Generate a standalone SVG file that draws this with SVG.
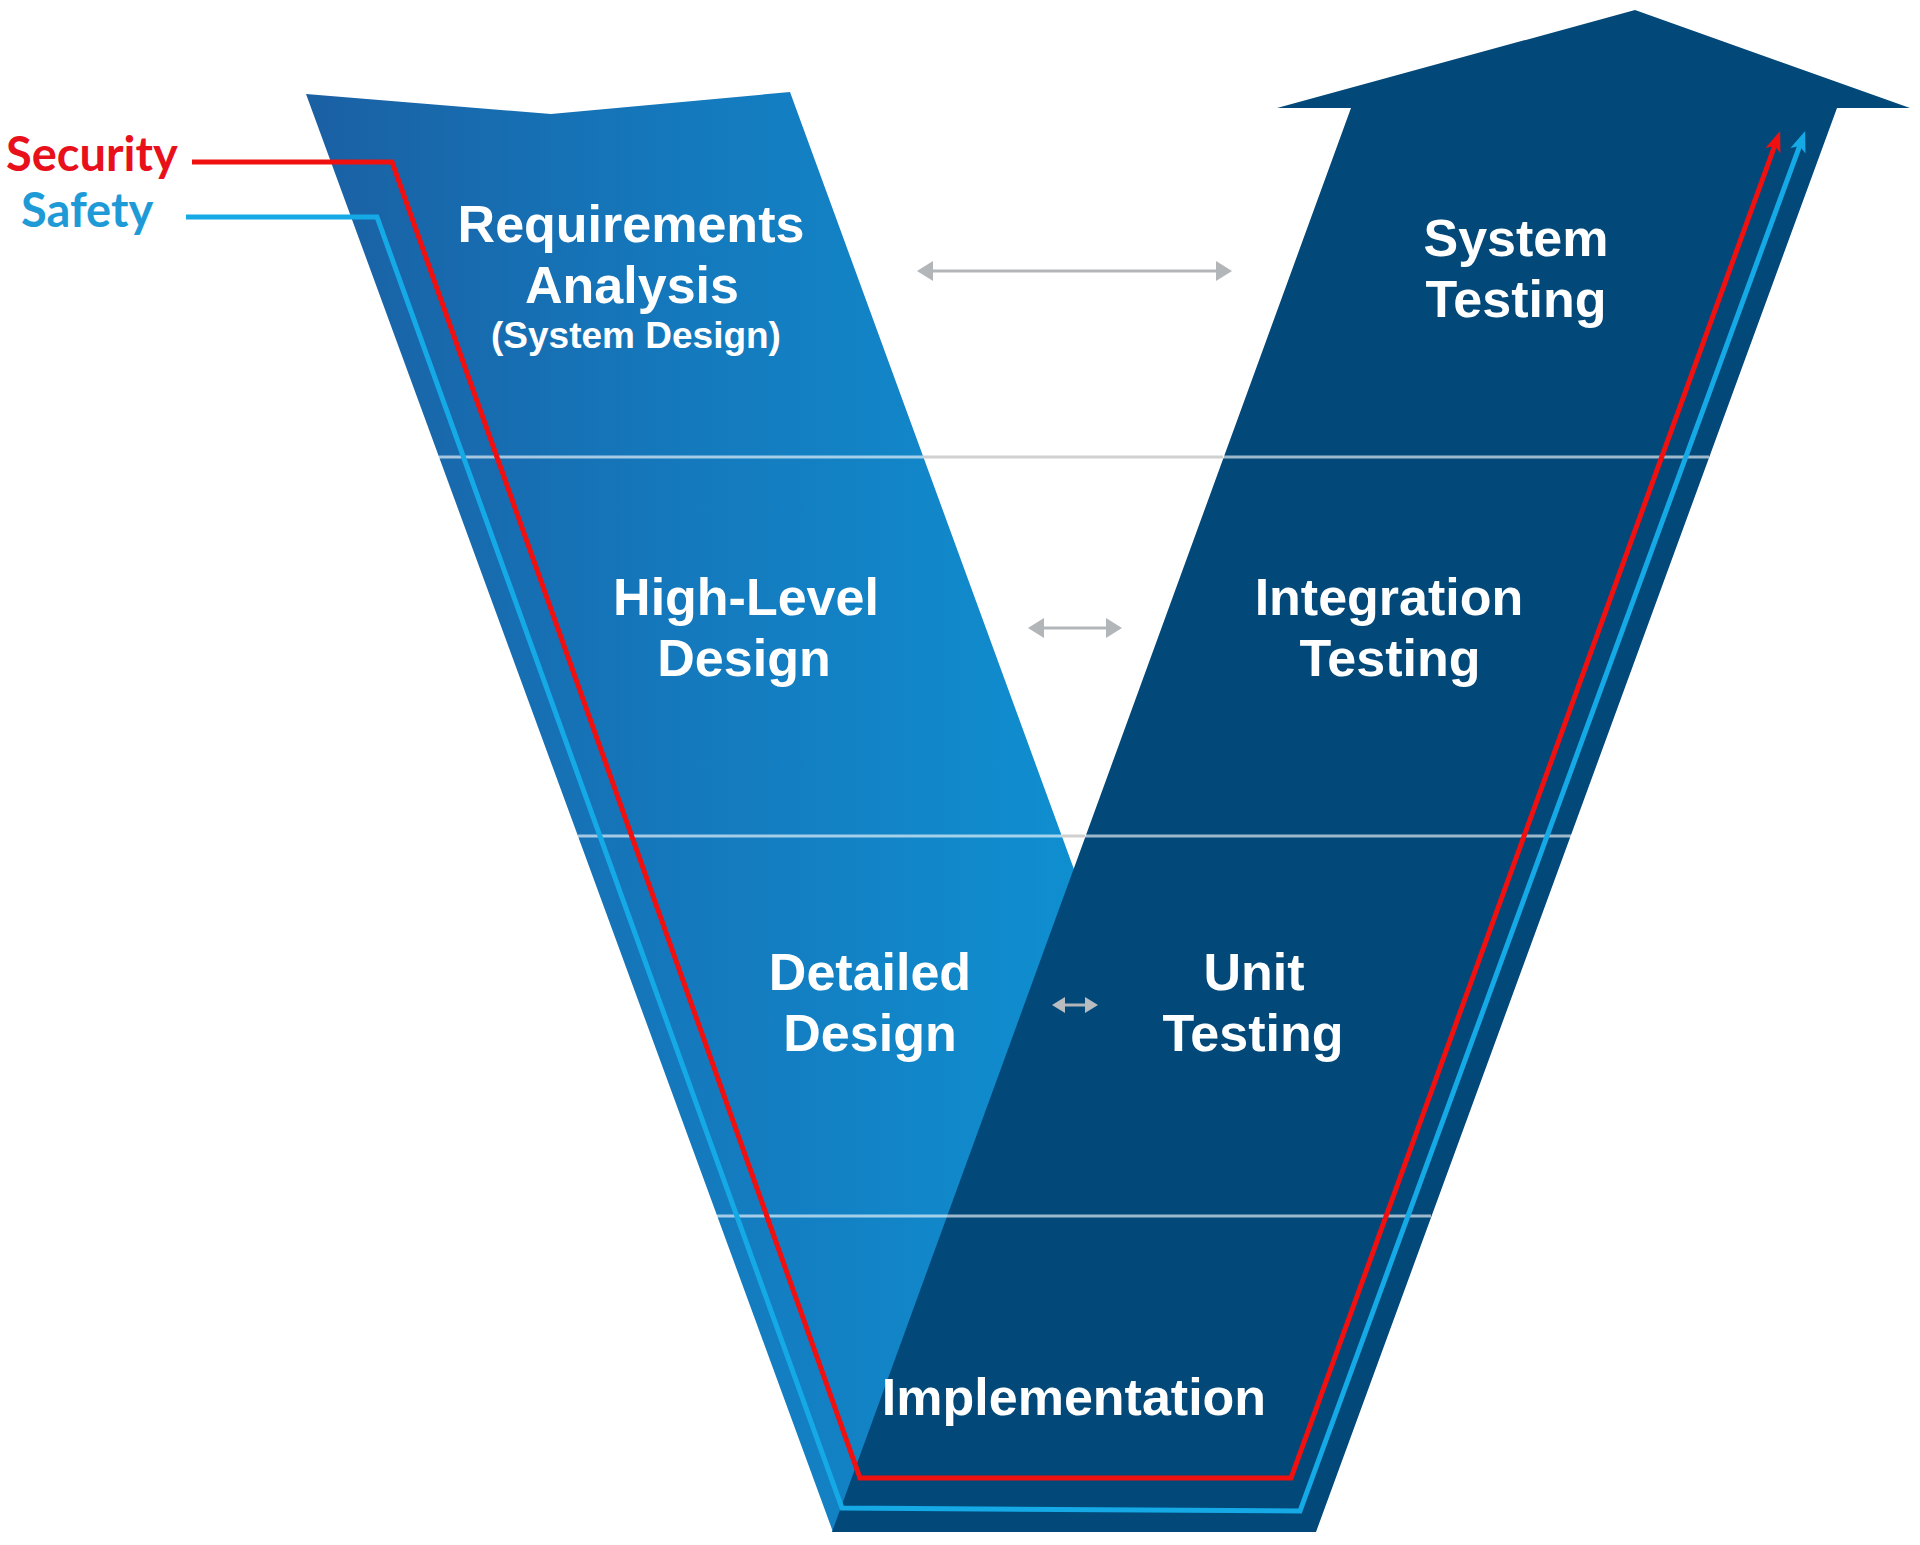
<svg xmlns="http://www.w3.org/2000/svg" width="1920" height="1545" viewBox="0 0 1920 1545">
  <defs>
    <linearGradient id="leftGrad" gradientUnits="userSpaceOnUse" x1="306" y1="0" x2="1080" y2="0">
      <stop offset="0" stop-color="#1a60a3"/>
      <stop offset="0.45" stop-color="#1577bb"/>
      <stop offset="1" stop-color="#0f8fd0"/>
    </linearGradient>
    <marker id="redHead" markerUnits="userSpaceOnUse" markerWidth="22" markerHeight="18" refX="6" refY="8" orient="auto" overflow="visible">
      <path d="M0,0 L21,8 L0,16 L5,8 z" fill="#f01010"/>
    </marker>
    <marker id="cyanHead" markerUnits="userSpaceOnUse" markerWidth="22" markerHeight="18" refX="6" refY="8" orient="auto" overflow="visible">
      <path d="M0,0 L21,8 L0,16 L5,8 z" fill="#15a9e6"/>
    </marker>
    <marker id="grayHead" markerUnits="userSpaceOnUse" markerWidth="18" markerHeight="20" refX="3" refY="10" orient="auto-start-reverse" overflow="visible">
      <path d="M0,0 L16,10 L0,20 z" fill="#b3b6b9"/>
    </marker>
    <marker id="grayHeadS" markerUnits="userSpaceOnUse" markerWidth="14" markerHeight="16" refX="3" refY="8" orient="auto-start-reverse" overflow="visible">
      <path d="M0,0 L13,8 L0,16 z" fill="#b9bdc1"/>
    </marker>
  </defs>
  <style>
    .stage { font-family: "Liberation Sans", Arial, sans-serif; font-weight: bold; fill: #ffffff; text-anchor: middle; font-size: 52px; }
    .sub { font-size: 37px; }
    .legend { font-family: Lato, "Liberation Sans", sans-serif; font-weight: bold; font-size: 47px; }
    .divider { stroke: #ffffff; stroke-opacity: 0.62; stroke-width: 3; }
    .gap { stroke: #d0d0d0; stroke-width: 3; }
    .track { fill: none; stroke-width: 5; stroke-linejoin: miter; }
    .both { stroke: #b3b6b9; stroke-width: 3; fill: none; }
  </style>

  <rect x="0" y="0" width="1920" height="1545" fill="#ffffff"/>

  <g id="left-arm">
    <polygon points="306,94 551,114 790,92 1079,883 900,1525 833,1532" fill="url(#leftGrad)"/>
  </g>
  <g id="right-arm">
    <polygon points="1351,108 1277,108 1635,10 1910,108 1837,108 1316,1532 832,1532" fill="#02497a"/>
  </g>

  <g id="dividers">
    <line class="divider" x1="439" y1="457" x2="923" y2="457"/>
    <line class="gap" x1="923" y1="457" x2="1223" y2="457"/>
    <line class="divider" x1="1223" y1="457" x2="1709" y2="457"/>
    <line class="divider" x1="578" y1="836" x2="1062" y2="836"/>
    <line class="gap" x1="1062" y1="836" x2="1085" y2="836"/>
    <line class="divider" x1="1085" y1="836" x2="1571" y2="836"/>
    <line class="divider" x1="717" y1="1216" x2="1431" y2="1216"/>
  </g>

  <g id="requirements-analysis">
    <text class="stage" x="631" y="242">Requirements</text>
    <text class="stage" x="632" y="303">Analysis</text>
    <text class="stage sub" x="636" y="348">(System Design)</text>
  </g>
  <g id="high-level-design">
    <text class="stage" x="746" y="615">High-Level</text>
    <text class="stage" x="744" y="676">Design</text>
  </g>
  <g id="detailed-design">
    <text class="stage" x="870" y="990">Detailed</text>
    <text class="stage" x="870" y="1051">Design</text>
  </g>
  <g id="implementation">
    <text class="stage" x="1074" y="1415">Implementation</text>
  </g>
  <g id="unit-testing">
    <text class="stage" x="1254" y="990">Unit</text>
    <text class="stage" x="1253" y="1051">Testing</text>
  </g>
  <g id="integration-testing">
    <text class="stage" x="1389" y="615">Integration</text>
    <text class="stage" x="1390" y="676">Testing</text>
  </g>
  <g id="system-testing">
    <text class="stage" x="1516" y="256">System</text>
    <text class="stage" x="1516" y="317">Testing</text>
  </g>

  <g id="legend">
    <text class="legend" x="6" y="171" fill="#e8101a">Security</text>
    <text class="legend" x="21" y="227" fill="#1e9bd7">Safety</text>
  </g>

  <g id="connectors">
    <line class="both" x1="930" y1="271" x2="1219" y2="271" marker-start="url(#grayHead)" marker-end="url(#grayHead)"/>
    <line class="both" x1="1041" y1="628" x2="1109" y2="628" marker-start="url(#grayHead)" marker-end="url(#grayHead)"/>
    <line class="both" x1="1062" y1="1005" x2="1088" y2="1005" stroke="#b9bdc1" marker-start="url(#grayHeadS)" marker-end="url(#grayHeadS)"/>
    <path class="track" d="M186,217 L377,217 L842,1508 L1300,1511 L1800,145" stroke="#15a9e6" marker-end="url(#cyanHead)"/>
    <path class="track" d="M192,162 L392,162 L860,1478 L1291,1478 L1775,145" stroke="#f01010" marker-end="url(#redHead)"/>
  </g>
</svg>
